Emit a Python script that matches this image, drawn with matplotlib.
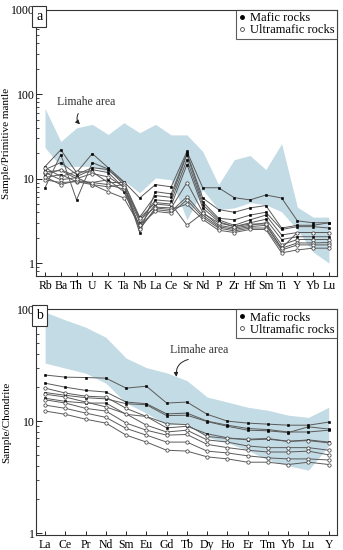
import matplotlib
matplotlib.use("Agg")
import matplotlib.pyplot as plt
from matplotlib.ticker import LogLocator, NullFormatter

plt.rcParams['font.family'] = ['Liberation Serif', 'DejaVu Serif']

# ---------------- Panel a: primitive mantle normalised ----------------
elems_a = ["Rb", "Ba", "Th", "U", "K", "Ta", "Nb", "La", "Ce", "Sr", "Nd", "P",
           "Zr", "Hf", "Sm", "Ti", "Y", "Yb", "Lu"]

limahe_a_upper = [68, 27.6, 40, 44, 33.4, 46, 35, 44, 33, 33, 21, 8.5,
                  16.8, 18.8, 12.8, 26, 4.6, 3.5, 3.5]
limahe_a_lower = [23.4, 13.9, 14, 14, 12, 9.5, 6.8, 10.2, 9.7, 3.25, 7.4, 4.3,
                  4.5, 5.2, 4.9, 4.05, 2.47, 1.35, 1.0]

mafic_a = [
    [13.9, 22, 11.8, 19.8, 13.5, 9.2, 5.9, 8.5, 8.0, 21, 7.8, 7.8, 5.95, 5.6, 6.4, 5.9, 3.16, 3.0, 3.0],
    [7.8, 19.3, 5.6, 15.5, 13.0, 8.5, 2.3, 7.0, 6.6, 20, 5.9, 4.3, 4.0, 4.5, 4.8, 2.6, 2.8, 2.8, 3.0],
    [12.8, 15.5, 11.2, 13.5, 12.8, 9.0, 3.5, 6.3, 6.0, 19.3, 5.3, 3.4, 3.25, 3.7, 4.0, 2.5, 2.7, 2.7, 2.6],
    [11.2, 12.8, 10.6, 12.8, 11.8, 7.8, 3.1, 5.6, 5.4, 16.8, 4.9, 3.25, 2.8, 3.25, 3.7, 2.15, 2.3, 2.3, 2.3],
    [10.3, 11.2, 9.2, 9.0, 9.7, 7.0, 2.8, 5.0, 4.8, 14.7, 4.5, 3.1, 2.7, 3.0, 3.3, 1.9, 2.05, 2.05, 2.05],
]
ultramafic_a = [
    [13.5, 10.6, 12.1, 12.0, 9.0, 9.0, 3.25, 4.6, 4.5, 9.0, 4.0, 2.8, 2.6, 2.8, 3.0, 1.64, 1.9, 1.9, 1.9],
    [11.8, 9.7, 10.3, 8.5, 8.0, 8.5, 2.6, 4.3, 4.1, 6.1, 3.7, 2.7, 2.5, 2.7, 2.8, 1.5, 1.73, 1.73, 1.75],
    [9.7, 9.0, 9.2, 8.5, 7.0, 5.9, 2.8, 4.1, 3.9, 5.6, 3.5, 2.6, 2.4, 2.6, 2.6, 1.43, 1.64, 1.64, 1.64],
    [10.5, 8.5, 9.5, 9.0, 8.5, 7.5, 2.5, 4.5, 4.3, 5.0, 3.3, 2.45, 2.3, 2.5, 2.5, 1.32, 1.43, 1.5, 1.5],
    [12.0, 12.5, 10.0, 11.5, 10.5, 8.0, 3.4, 5.2, 5.0, 2.8, 3.9, 3.0, 2.7, 2.9, 2.9, 1.5, 2.3, 2.3, 2.3],
]

# ---------------- Panel b: chondrite normalised REE ----------------
elems_b = ["La", "Ce", "Pr", "Nd", "Sm", "Eu", "Gd", "Tb", "Dy", "Ho", "Er", "Tm", "Yb", "Lu", "Y"]

limahe_b_upper = [94, 80, 69, 56, 36.5, 30, 27, 23, 16.4, 14.8, 13.3, 12.5, 11.3, 10.8, 13.3]
limahe_b_lower = [33, 29.7, 26.8, 21.8, 14.5, 11.8, 9.2, 9.6, 7.2, 6.4, 5.5, 4.5, 4.0, 3.65, 6.0]

mafic_b = [
    [25.8, 24.7, 24.5, 24.2, 19.7, 20.5, 14.5, 14.8, 11.5, 10.0, 9.6, 9.4, 9.2, 9.2, 9.8],
    [21.8, 20.1, 18.8, 18.2, 14.8, 14.3, 11.6, 11.8, 10.0, 9.2, 8.6, 8.4, 8.0, 8.0, 8.3],
    [18.0, 17.0, 16.2, 15.8, 14.3, 14.0, 11.2, 11.3, 9.9, 9.0, 8.3, 8.2, 7.9, 8.9, 8.5],
    [16.0, 15.0, 14.5, 14.5, 11.5, 11.0, 8.7, 9.0, 7.7, 7.1, 6.8, 6.9, 6.6, 6.8, 6.5],
]
ultramafic_b = [
    [19.7, 17.8, 16.7, 16.4, 13.0, 11.0, 9.5, 9.3, 7.3, 7.0, 6.9, 7.0, 6.6, 6.7, 6.4],
    [17.4, 16.4, 14.8, 13.4, 11.6, 9.2, 8.0, 8.3, 6.8, 6.5, 6.0, 5.8, 5.8, 5.8, 5.5],
    [15.5, 14.5, 13.0, 12.3, 9.6, 8.3, 7.5, 7.6, 6.2, 5.8, 5.5, 5.3, 5.3, 5.4, 5.0],
    [13.9, 13.0, 11.8, 10.8, 8.6, 7.5, 6.5, 6.5, 5.4, 5.2, 4.9, 4.7, 4.6, 4.6, 4.5],
    [12.3, 11.5, 10.4, 9.6, 7.5, 6.5, 5.5, 5.4, 4.8, 4.6, 4.3, 4.3, 4.1, 4.3, 4.1],
]

SHADE = "#c3dbe4"
LINE = "#5a5a5a"
FS = 8.5

fig = plt.figure(figsize=(3.43, 5.5), dpi=100)
ax_a = fig.add_axes([0.105, 0.498, 0.877, 0.484])
ax_b = fig.add_axes([0.105, 0.027, 0.877, 0.411])


def draw(ax, elems, up, lo, mafic, ultra):
    x = list(range(len(elems)))
    ax.fill_between(x, lo, up, color=SHADE, lw=0, zorder=1)
    for s in mafic:
        ax.plot(x, s, color=LINE, lw=0.7, marker='s', ms=1.9, mfc='black',
                mec='black', mew=0.4, zorder=3)
    for s in ultra:
        ax.plot(x, s, color=LINE, lw=0.7, marker='o', ms=2.4, mfc='white',
                mec='#444444', mew=0.55, zorder=3)
    ax.set_yscale('log')
    ax.set_xticks(x)
    ax.set_xticklabels(elems, fontsize=FS)
    ax.tick_params(axis='x', direction='in', length=3, width=0.6, pad=3, top=False)
    ax.tick_params(axis='y', which='major', direction='in', length=4, width=0.6,
                   pad=1, labelsize=FS, right=False)
    ax.tick_params(axis='y', which='minor', direction='in', length=2.5, width=0.5,
                   right=False)
    ax.yaxis.set_minor_locator(LogLocator(base=10, subs=range(2, 10)))
    ax.yaxis.set_minor_formatter(NullFormatter())
    for sp in ax.spines.values():
        sp.set_linewidth(0.8)
        sp.set_color('#333333')
    ax.plot([], [], ls='none', marker='o', ms=2.5, mfc='black', mec='black', label='Mafic rocks')
    ax.plot([], [], ls='none', marker='o', ms=2.8, mfc='white', mec='#444444', mew=0.6,
            label='Ultramafic rocks')
    leg = ax.legend(loc='upper right', fontsize=FS + 0.5, frameon=True, fancybox=False,
                    borderpad=0.2, handlelength=0.5, handletextpad=0.4,
                    labelspacing=0.0, borderaxespad=0.0, edgecolor='#333333')
    leg.get_frame().set_linewidth(0.8)


draw(ax_a, elems_a, limahe_a_upper, limahe_a_lower, mafic_a, ultramafic_a)
ax_a.set_xlim(-0.57, 18.5)
ax_a.set_ylim(0.7, 1000)
ax_a.set_yticks([1, 10, 100, 1000])
ax_a.set_yticklabels(["1", "10", "100", "1000"])
ax_a.set_ylabel("Sample/Primitive mantle", fontsize=8)
ax_a.yaxis.set_label_coords(-0.082, 0.5)
ax_a.text(0.0, 1.0, "a", transform=ax_a.transAxes, ha='left', va='top', fontsize=10,
          bbox=dict(boxstyle='square,pad=0.3', fc='white', ec='#333333', lw=0.8))
ax_a.annotate("", xy=(2.35, 42), xytext=(2.2, 63),
              arrowprops=dict(arrowstyle='-|>', color='#222222', lw=0.7,
                              mutation_scale=6, connectionstyle='arc3,rad=0.5'))
ax_a.text(2.6, 68, "Limahe area", fontsize=FS, ha='center', va='bottom', color='#333333')

draw(ax_b, elems_b, limahe_b_upper, limahe_b_lower, mafic_b, ultramafic_b)
ax_b.set_xlim(-0.45, 14.4)
ax_b.set_ylim(0.96, 100)
ax_b.set_yticks([1, 10, 100])
ax_b.set_yticklabels(["1", "10", "100"])
ax_b.set_ylabel("Sample/Chondrite", fontsize=8)
ax_b.yaxis.set_label_coords(-0.082, 0.5)
ax_b.text(0.0, 1.0, "b", transform=ax_b.transAxes, ha='left', va='top', fontsize=10,
          bbox=dict(boxstyle='square,pad=0.3', fc='white', ec='#333333', lw=0.8))
ax_b.annotate("", xy=(6.5, 23.5), xytext=(7.2, 36),
              arrowprops=dict(arrowstyle='-|>', color='#222222', lw=0.7,
                              mutation_scale=6, connectionstyle='arc3,rad=0.5'))
ax_b.text(7.6, 38, "Limahe area", fontsize=FS, ha='center', va='bottom', color='#333333')

fig.savefig("out.png", dpi=100)
